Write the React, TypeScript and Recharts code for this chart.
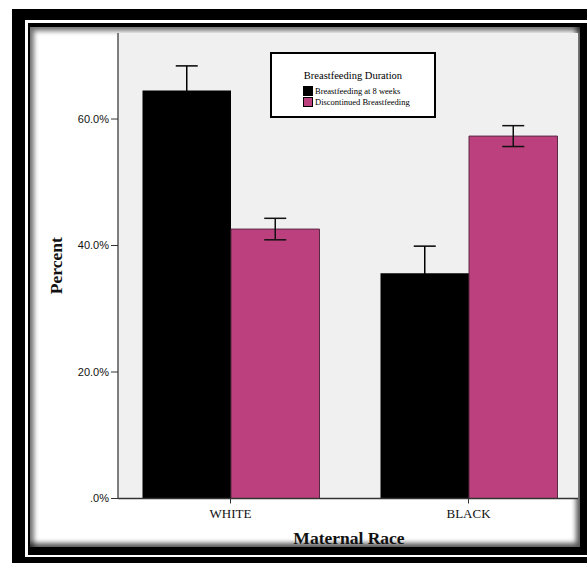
import React from 'react';
import { BarChart, Bar, XAxis, YAxis, CartesianGrid, ErrorBar, Legend } from 'recharts';

// Breastfeeding duration by maternal race (percent of mothers, with error bars)
const categories = ['WHITE', 'BLACK'];
const atEightWeeks = [64.5, 35.6];
const atEightWeeksErr = [3.9, 4.3];
const discontinued = [42.6, 57.3];
const discontinuedErr = [1.7, 1.65];
const yTicks = [0, 20, 40, 60];

const seriesNames = ['Breastfeeding at 8 weeks', 'Discontinued Breastfeeding'];
const legendTitle = 'Breastfeeding Duration';

const data = categories.map((race, i) => ({
  race,
  atEightWeeks: atEightWeeks[i],
  atEightWeeksErr: atEightWeeksErr[i],
  discontinued: discontinued[i],
  discontinuedErr: discontinuedErr[i],
}));

const SERIF = "'Liberation Serif', 'Times New Roman', serif";
const SANS = "'Liberation Sans', Arial, sans-serif";
const PINK = '#BB407D';

const formatPercent = (v: number) => (v === 0 ? '.0%' : `${v.toFixed(1)}%`);

const LegendBox = (props: any) => {
  const payload = props.payload || [];
  return (
    <div
      style={{
        width: 166,
        height: 66,
        boxSizing: 'border-box',
        border: '2px solid #000',
        background: '#fff',
        fontFamily: SERIF,
        color: '#000',
        position: 'relative',
      }}
    >
      <div
        style={{
          position: 'absolute',
          left: 0,
          right: 0,
          top: 16,
          textAlign: 'center',
          fontFamily: SERIF,
          fontSize: 10.5,
          lineHeight: '12px',
          whiteSpace: 'nowrap',
        }}
      >
        {legendTitle}
      </div>
      {payload.map((p: any, i: number) => (
        <div
          key={p.value}
          style={{
            position: 'absolute',
            left: 31,
            top: 32 + i * 11,
            height: 10,
            display: 'flex',
            alignItems: 'center',
            fontFamily: SERIF,
            fontSize: 8.5,
            lineHeight: '10px',
            whiteSpace: 'nowrap',
          }}
        >
          <span
            style={{
              display: 'inline-block',
              width: 8,
              height: 8,
              background: p.color,
              border: '1px solid #000',
              marginRight: 2,
            }}
          />
          <span style={{ fontFamily: SERIF }}>{p.value}</span>
        </div>
      ))}
    </div>
  );
};

const YTitle = (props: any) => {
  const vb = props.viewBox || {};
  const x = vb.x + 56;
  const y = vb.y + vb.height / 2;
  return (
    <text
      x={x}
      y={y}
      transform={`rotate(-90, ${x}, ${y})`}
      textAnchor="middle"
      dominantBaseline="central"
      fontFamily={SERIF}
      fontWeight="bold"
      fontSize={17.5}
      fill="#111"
    >
      Percent
    </text>
  );
};

const XTitle = (props: any) => {
  const vb = props.viewBox || {};
  return (
    <text
      x={vb.x + vb.width / 2 + 1}
      y={vb.y + 39.5}
      textAnchor="middle"
      dominantBaseline="central"
      fontFamily={SERIF}
      fontWeight="bold"
      fontSize={17.5}
      fill="#111"
    >
      Maternal Race
    </text>
  );
};

export default function App() {
  return (
    <div
      style={{
        position: 'absolute',
        left: 0,
        top: 0,
        width: 587,
        height: 563,
        overflow: 'hidden',
        background: '#fff',
      }}
    >
      {/* layered frame */}
      <div style={{ position: 'absolute', left: 12, top: 9, width: 600, height: 600, background: '#000' }} />
      <div style={{ position: 'absolute', left: 25, top: 20, width: 600, height: 537, background: '#fff' }} />
      <div style={{ position: 'absolute', left: 28, top: 23, width: 600, height: 532, background: '#000' }} />
      <div
        style={{
          position: 'absolute',
          left: 30,
          top: 27,
          width: 550,
          height: 520,
          background: '#fff',
          boxShadow:
            'inset 4px 4px 5px rgba(0,0,0,0.55), inset -4px -4px 5px rgba(0,0,0,0.65)',
        }}
      />
      <div style={{ position: 'absolute', left: 0, top: 0 }}>
        <BarChart
          width={587}
          height={563}
          data={data}
          margin={{ top: 33, right: 9, left: 0, bottom: 34.5 }}
          barGap={0}
          barCategoryGap={30.5}
        >
          <CartesianGrid horizontal={false} vertical={false} fill="#F0F0F0" stroke="none" />
          <XAxis
            dataKey="race"
            height={30}
            padding={{ left: -6.5, right: -9.5 }}
            axisLine={{ stroke: '#333', strokeWidth: 1.5 }}
            tickLine={{ stroke: '#333' }}
            tickSize={5}
            tickMargin={5}
            tick={{ fontFamily: SERIF, fontSize: 13, fill: '#111' }}
            label={<XTitle />}
          />
          <YAxis
            width={118}
            domain={[0, 73.6]}
            ticks={yTicks}
            tickFormatter={formatPercent}
            axisLine={{ stroke: '#555', strokeWidth: 1.5 }}
            tickLine={{ stroke: '#333' }}
            tickSize={7}
            tickMargin={2}
            tick={{ fontFamily: SANS, fontSize: 11, fill: '#111' }}
            label={<YTitle />}
          />
          <Legend
            layout="vertical"
            align="center"
            verticalAlign="middle"
            content={<LegendBox />}
            wrapperStyle={{ position: 'absolute', left: 270, top: 52, width: 166, height: 66, fontFamily: SERIF }}
          />
          <Bar
            dataKey="atEightWeeks"
            name={seriesNames[0]}
            fill="#000"
            barSize={88.5}
            isAnimationActive={false}
          >
            <ErrorBar dataKey="atEightWeeksErr" width={11} stroke="#000" strokeWidth={1.5} direction="y" />
          </Bar>
          <Bar
            dataKey="discontinued"
            name={seriesNames[1]}
            fill={PINK}
            stroke="#5a2a45"
            strokeWidth={1}
            barSize={88.5}
            isAnimationActive={false}
          >
            <ErrorBar dataKey="discontinuedErr" width={11} stroke="#111" strokeWidth={1.5} direction="y" />
          </Bar>
        </BarChart>
      </div>
    </div>
  );
}
